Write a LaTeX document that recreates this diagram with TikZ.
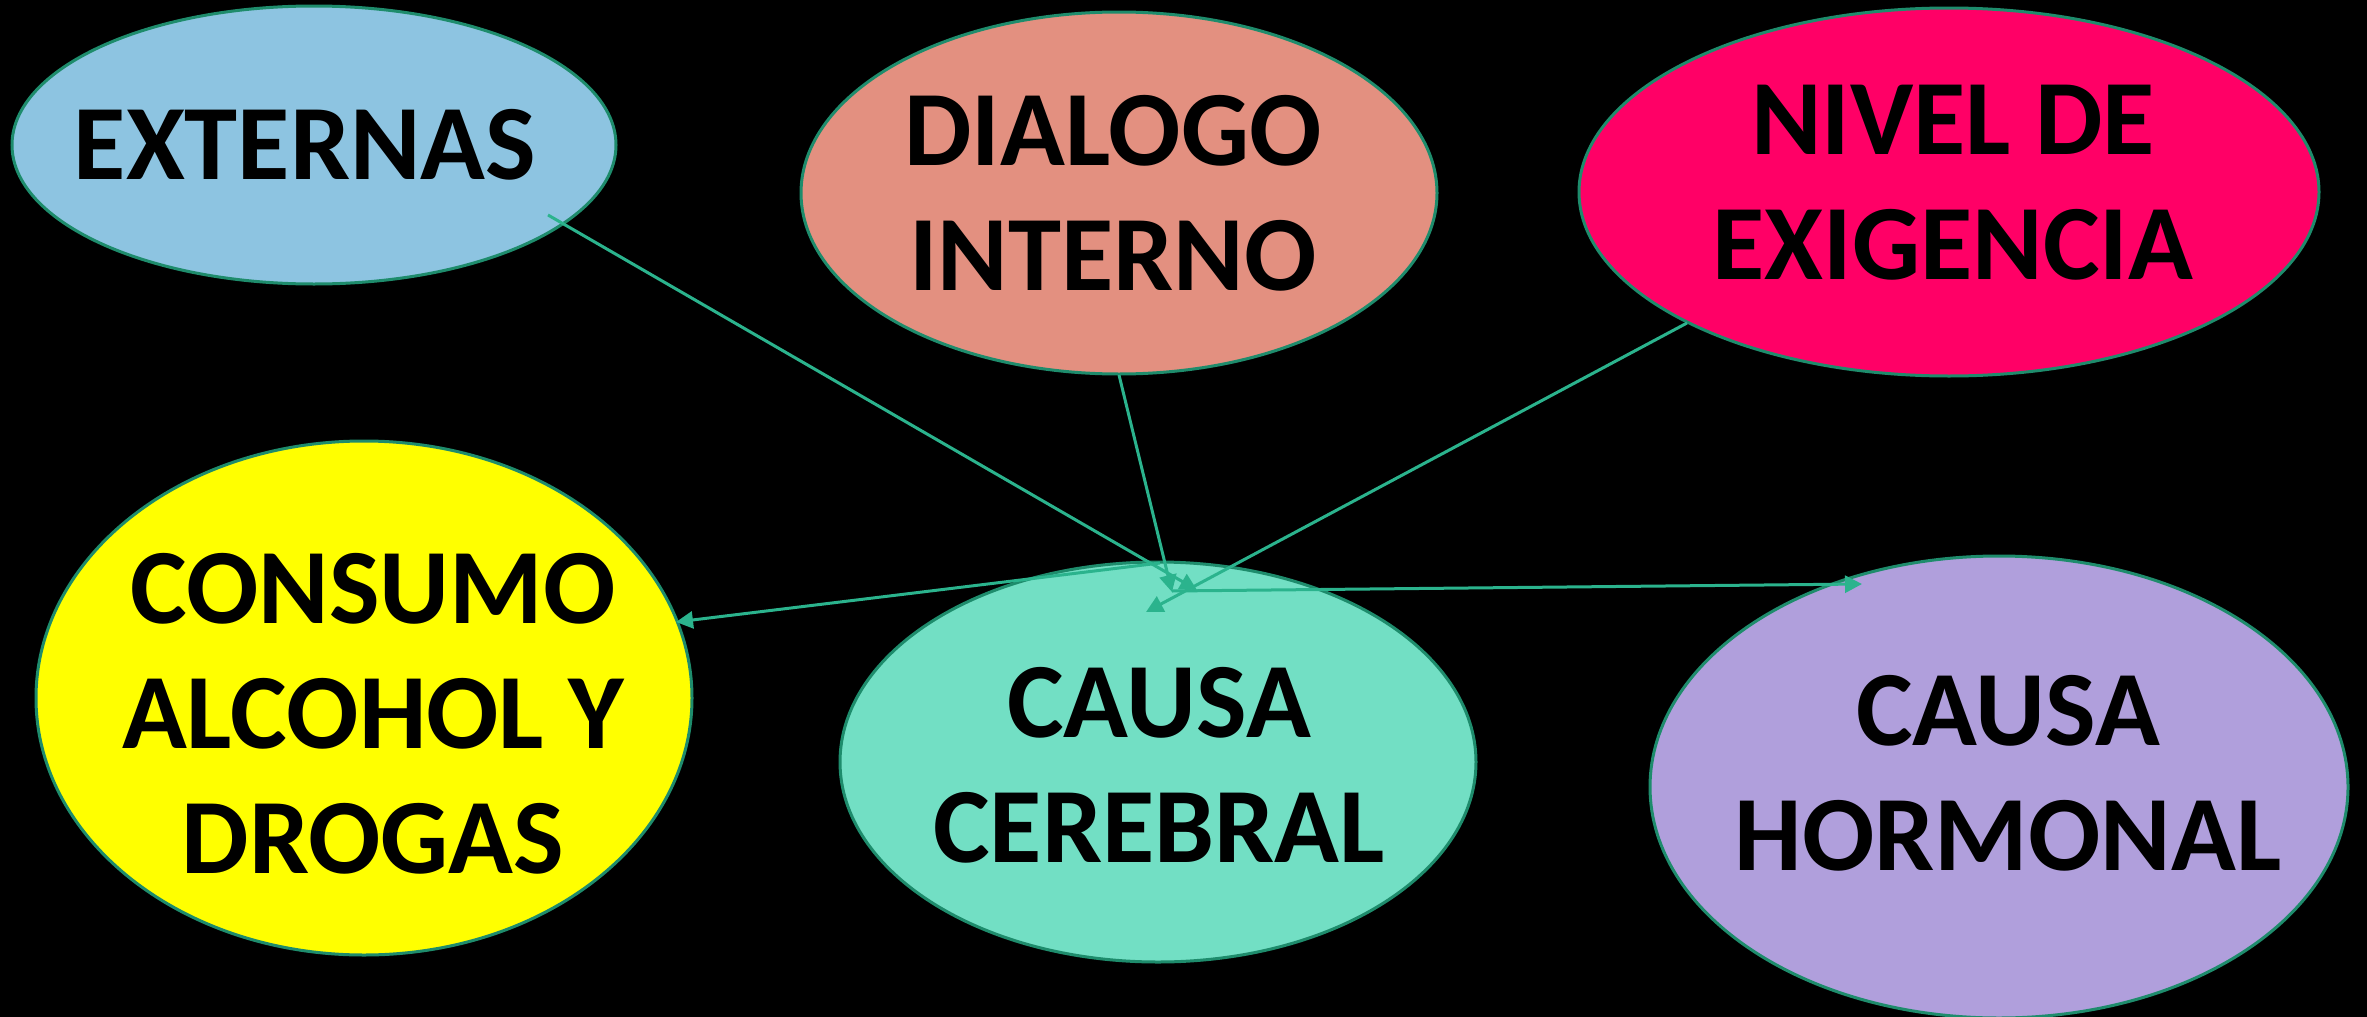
\documentclass[tikz,border=0pt]{standalone}
\usepackage{fontspec}
\setmainfont{Carlito}
\usetikzlibrary{shapes.geometric,arrows.meta}
\definecolor{cExt}{HTML}{8DC4E1}
\definecolor{cDia}{HTML}{E39080}
\definecolor{cNiv}{HTML}{FF0066}
\definecolor{cCon}{HTML}{FFFF00}
\definecolor{cCer}{HTML}{72DFC4}
\definecolor{cHor}{HTML}{B09FDC}
\definecolor{bordc}{HTML}{1E8C6C}
\definecolor{linec}{HTML}{2BB38D}
\tikzset{
  bubble/.style={ellipse, draw=bordc, line width=3pt, inner sep=0pt},
  lbl/.style={font=\fontsize{107}{125}\selectfont\bfseries, align=center, text=black, inner sep=0pt},
  conn/.style={draw=linec, line width=3pt, -{Triangle[length=17pt,width=17pt]}}
}
\begin{document}
\begin{tikzpicture}[x=1pt,y=-1pt]
\fill[black] (0,0) rectangle (2367,1017);
\useasboundingbox (0,0) rectangle (2367,1017);

% ellipses
\node[bubble, fill=cExt, minimum width=604pt, minimum height=278pt] (ext) at (314,145) {};
\node[bubble, fill=cDia, minimum width=636pt, minimum height=362pt] (dia) at (1119,193) {};
\node[bubble, fill=cNiv, minimum width=740pt, minimum height=368pt] (niv) at (1949,192) {};
\node[bubble, fill=cCon, minimum width=656pt, minimum height=514pt] (con) at (364,698) {};
\node[bubble, fill=cCer, minimum width=636pt, minimum height=400pt] (cer) at (1158,762) {};
\node[bubble, fill=cHor, minimum width=698pt, minimum height=462pt] (hor) at (1999,787) {};

% connector points
\coordinate (extS) at (548,215);
\coordinate (extE) at (1197,590);
\coordinate (diaS) at (1119,375);
\coordinate (diaE) at (1172,592);
\coordinate (nivS) at (1687,323);
\coordinate (nivE) at (1146,612);
\coordinate (hubH) at (1172,591);
\coordinate (horE) at (1862,584);
\coordinate (hubC) at (1160,563);
\coordinate (conE) at (676,622);

\draw[conn] (extS) -- (extE);
\draw[conn] (diaS) -- (diaE);
\draw[conn] (nivS) -- (nivE);
\draw[conn] (hubH) -- (horE);
\draw[conn] (hubC) -- (conE);

% labels
\node[lbl] (tExt) at (305,145) {EXTERNAS};
\node[lbl] (tDia) at (1113,193) {DIALOGO\\INTERNO};
\node[lbl] (tNiv) at (1953,183) {NIVEL DE\\EXIGENCIA};
\node[lbl] (tCon) at (373,714) {CONSUMO\\ALCOHOL Y\\DROGAS};
\node[lbl] (tCer) at (1159,765) {CAUSA\\CEREBRAL};
\node[lbl] (tHor) at (2008,773) {CAUSA\\HORMONAL};
\end{tikzpicture}
\end{document}
